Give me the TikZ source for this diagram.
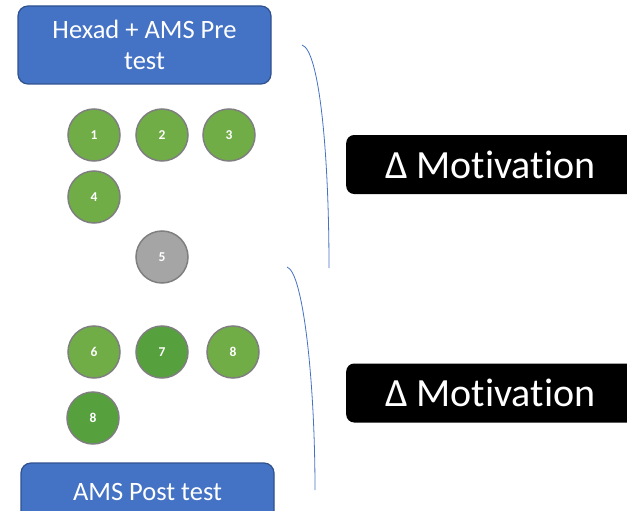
\documentclass[tikz,border=0pt]{standalone}
\usepackage{fontspec}
\setmainfont[Ligatures=NoCommon]{Carlito}
\usepackage{xcolor}

\definecolor{boxblue}{HTML}{4472C4}
\definecolor{boxedge}{HTML}{2F528F}
\definecolor{lightgreen}{HTML}{70AD47}
\definecolor{darkgreen}{HTML}{56A03E}
\definecolor{ballgray}{HTML}{A5A5A5}
\definecolor{balledge}{HTML}{7F7F7F}

\tikzset{
    testbox/.style={rectangle, rounded corners=10pt, draw=boxedge, line width=1.2pt, fill=boxblue,
        text=white, font=\fontsize{26.5}{31}\selectfont, align=center, minimum width=253pt},
    ball/.style={circle, draw=balledge, line width=1.5pt, fill=lightgreen, text=white,
        font=\fontsize{13.5}{13.5}\selectfont\bfseries, minimum size=52pt, inner sep=0pt},
    deltabox/.style={rectangle, rounded corners=8pt, fill=black, text=white, anchor=west,
        font=\fontsize{40}{40}\selectfont, minimum height=59pt, text width=260pt,
        inner xsep=39pt, align=left},
    brace/.style={draw=boxblue, line width=0.8pt}
}

\begin{document}
\begin{tikzpicture}[x=1pt, y=-1pt]
        \useasboundingbox (0,0) rectangle (627,511);
        \clip (0,0) rectangle (627,511);

        % Define nodes
        \node[testbox, minimum height=78pt] (pre) at (144.5,45) {Hexad + AMS Pre\\test};

        \node[ball] (b1) at (94,135) {1};
        \node[ball] (b2) at (162,135) {2};
        \node[ball] (b3) at (229,135) {3};
        \node[ball] (b4) at (94,197) {4};
        \node[ball, fill=ballgray] (b5) at (162,257) {5};

        \node[ball] (b6) at (94,352) {6};
        \node[ball, fill=darkgreen] (b7) at (162,352) {7};
        \node[ball] (b8) at (233,352) {8};
        \node[ball, fill=darkgreen] (b9) at (93,418) {8};

        \node[testbox, minimum height=58pt] (post) at (147.5,492) {AMS Post test};

        \node[deltabox] (dtop) at (346,164.5) {Δ\hspace{0.22em}Motivation};
        \node[deltabox] (dbot) at (346,393) {Δ\hspace{0.22em}Motivation};

        % Braces
        \draw[brace] (302,45) .. controls (319,50) and (329,150) .. (329,268);
        \draw[brace] (287,267) .. controls (303,272) and (315,380) .. (315,490);
    \end{tikzpicture}
\end{document}
